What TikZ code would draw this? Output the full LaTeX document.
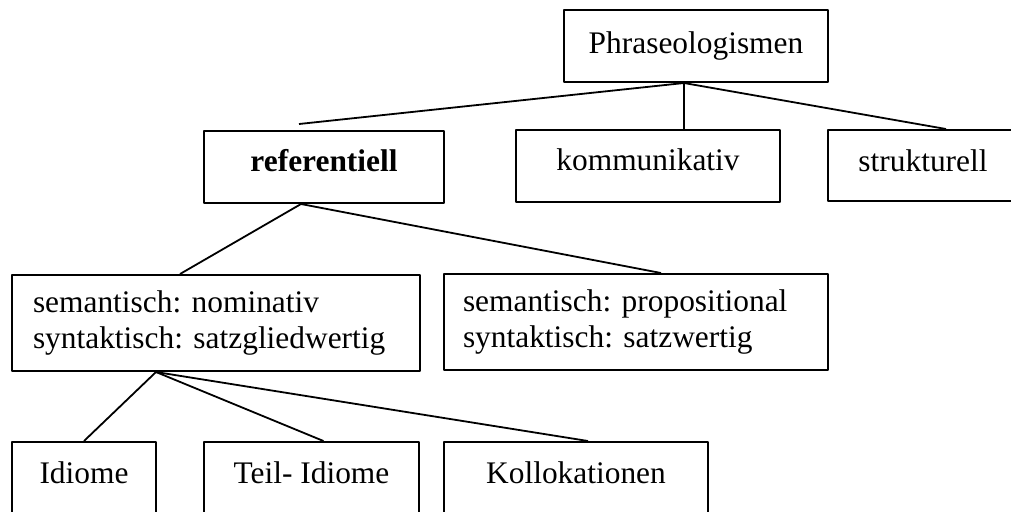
\documentclass[tikz,border=0pt]{standalone}
\usepackage{fontspec}
\setmainfont{Liberation Serif}
\frenchspacing
\begin{document}
\begin{tikzpicture}[x=0.5pt,y=-0.5pt,line join=bevel,
    box/.style={draw,rectangle,line width=1pt,inner sep=0pt,anchor=north west,
      font=\fontsize{15.7}{18}\selectfont},
    twoline/.style={box,align=left,minimum height=48pt},
    link/.style={line width=0.9pt}]
    %%
    \fill [white,use as bounding box] (0,0) rectangle (1011,511);
    \clip (0,0) rectangle (1011,511);
    %%
    \node (phrase) at (563,9) [box,minimum width=132pt,text height=21.5pt,text depth=14.5pt] {Phraseologismen};
    \node (ref) at (203,130) [box,minimum width=120pt,text height=20pt,text depth=16pt] {\textbf{referentiell}};
    \node (komm) at (515,129) [box,minimum width=132pt,text height=20pt,text depth=16pt] {kommunikativ};
    \node (strukt) at (827,129) [box,minimum width=95pt,text height=20.5pt,text depth=15pt] {strukturell};
    \node (nom) at (11,274) [twoline,inner xsep=10.5pt,text width=183pt] {semantisch: nominativ\\syntaktisch: satzgliedwertig};
    \node (prop) at (443,273) [twoline,inner xsep=9.5pt,text width=173pt] {semantisch: propositional\\syntaktisch: satzwertig};
    \node (idiom) at (11,441) [box,minimum width=72pt,text height=20.5pt,text depth=19pt] {Idiome};
    \node (teil) at (203,441) [box,minimum width=107.5pt,text height=20.5pt,text depth=19pt] {Teil- Idiome};
    \node (koll) at (443,441) [box,minimum width=132pt,text height=20.5pt,text depth=19pt] {Kollokationen};
    %
    \coordinate (phrase-out) at ([xshift=-6pt]phrase.south);
    \draw [link] (phrase-out) -- ([xshift=-12.5pt,yshift=3pt]ref.north);
    \draw [link] (phrase-out) -- (phrase-out |- komm.north);
    \draw [link] (phrase-out) -- ([xshift=11.5pt]strukt.north);
    \coordinate (ref-out) at ([xshift=-11.5pt]ref.south);
    \draw [link] (ref-out) -- ([xshift=-18pt]nom.north);
    \draw [link] (ref-out) -- ([xshift=12.5pt]prop.north);
    \coordinate (nom-out) at ([xshift=-30pt]nom.south);
    \draw [link] (nom-out) -- (idiom.north);
    \draw [link] (nom-out) -- ([xshift=6pt]teil.north);
    \draw [link] (nom-out) -- ([xshift=6pt]koll.north);
    %
\end{tikzpicture}
\end{document}
